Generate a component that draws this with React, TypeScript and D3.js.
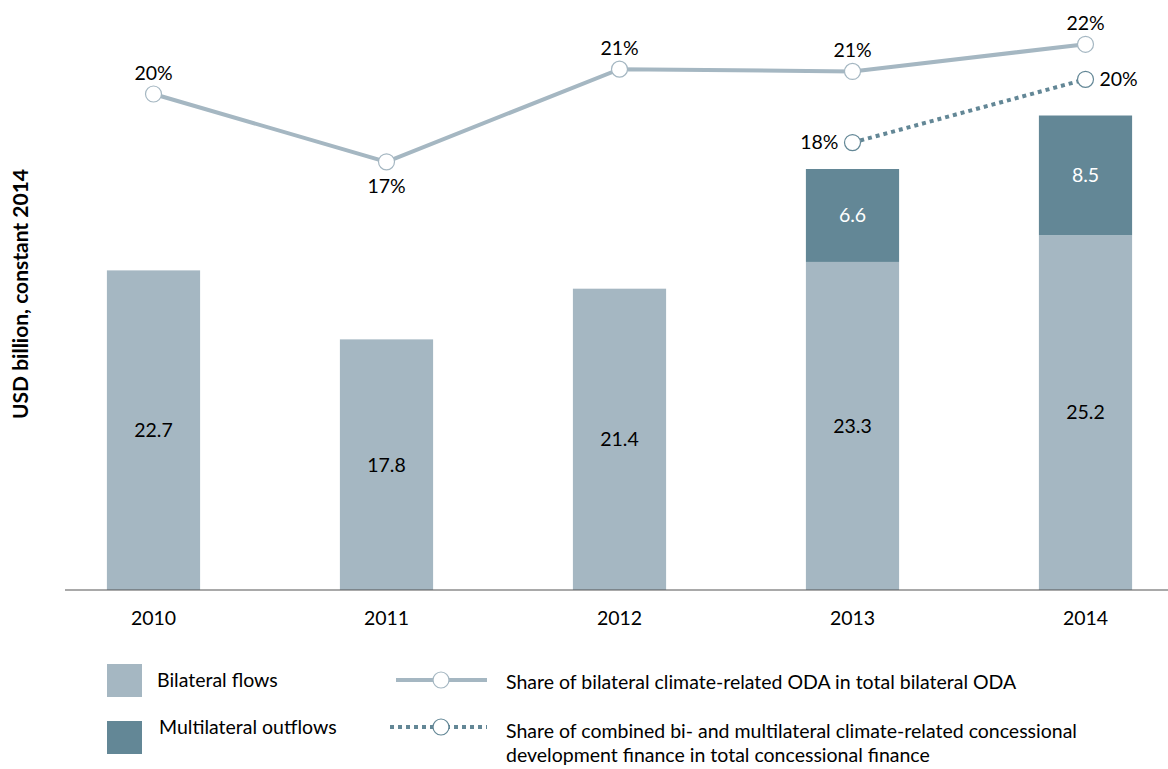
import { line, scaleBand, scaleLinear } from "d3";

const years = ["2010", "2011", "2012", "2013", "2014"];
const bilateral = [22.7, 17.8, 21.4, 23.3, 25.2];
const multilateral = [0, 0, 0, 6.6, 8.5];
const shareBilateral = [20.0, 17.0, 21.1, 21.0, 22.2];
const shareBilateralLabels = ["20%", "17%", "21%", "21%", "22%"];
const shareCombinedYears = ["2013", "2014"];
const shareCombined = [17.85, 20.65];
const shareCombinedLabels = ["18%", "20%"];

const light = "#a5b7c2";
const dark = "#638796";
const font = "Lato, 'Open Sans', sans-serif";

export default function App() {
    const width = 1168
    const height = 769
    const base = 590

    const x = scaleBand().domain(years).range([37, 1202]).paddingInner(0.6).paddingOuter(0.3)
    const y = scaleLinear().domain([0, 40]).range([base, base - 40 * 14.08])
    const p = scaleLinear().domain([15, 25]).range([94 + 5 * 22.6, 94 - 5 * 22.6])
    const cx = (yr: string) => (x(yr) as number) + x.bandwidth() / 2

    const solid = line<number>().x((_, i) => cx(years[i])).y(d => p(d))
    const dotted = line<number>().x((_, i) => cx(shareCombinedYears[i])).y(d => p(d))

    const fs = 19.5

    return (
        <svg width={width} height={height} style={{ position: "absolute", left: 0, top: 0 }}
            fontFamily={font}>
            <text transform={`translate(28, 294) rotate(-90)`} textAnchor="middle" fontWeight="bold"
                fontSize={21} fill="#000">USD billion, constant 2014</text>

            {years.map((yr, i) => (
                <g key={yr}>
                    <rect x={x(yr)} width={x.bandwidth()} y={y(bilateral[i])} height={base - y(bilateral[i])} fill={light} />
                    <text x={cx(yr)} y={(y(bilateral[i]) + base) / 2} dy="0.35em" textAnchor="middle" fontSize={fs}>
                        {bilateral[i].toFixed(1)}
                    </text>
                    {multilateral[i] > 0 && (
                        <>
                            <rect x={x(yr)} width={x.bandwidth()} y={y(bilateral[i] + multilateral[i])}
                                height={y(bilateral[i]) - y(bilateral[i] + multilateral[i])} fill={dark} />
                            <text x={cx(yr)} y={(y(bilateral[i]) + y(bilateral[i] + multilateral[i])) / 2} dy="0.35em"
                                textAnchor="middle" fontSize={fs} fill="#fff">{multilateral[i].toFixed(1)}</text>
                        </>
                    )}
                    <text x={cx(yr)} y={618} dy="0.35em" textAnchor="middle" fontSize={fs}>{yr}</text>
                </g>
            ))}

            <line x1={65} x2={1168} y1={base} y2={base} stroke="#555" strokeWidth={1.2} />

            <path d={solid(shareBilateral) ?? ""} fill="none" stroke={light} strokeWidth={4} />
            <path d={dotted(shareCombined) ?? ""} fill="none" stroke={dark} strokeWidth={4} strokeDasharray="4 4" />

            {shareBilateral.map((v, i) => (
                <g key={"s" + i}>
                    <circle cx={cx(years[i])} cy={p(v)} r={8} fill="#fff" stroke={light} strokeWidth={1.2} />
                    <text x={cx(years[i])} y={i === 1 ? p(v) + 24 : p(v) - 21} dy="0.35em" textAnchor="middle" fontSize={fs}>
                        {shareBilateralLabels[i]}
                    </text>
                </g>
            ))}
            {shareCombined.map((v, i) => (
                <g key={"c" + i}>
                    <circle cx={cx(shareCombinedYears[i])} cy={p(v)} r={8} fill="#fff" stroke={dark} strokeWidth={1.2} />
                    <text x={cx(shareCombinedYears[i]) + (i === 0 ? -14 : 14)} y={p(v)} dy="0.35em"
                        textAnchor={i === 0 ? "end" : "start"} fontSize={fs}>{shareCombinedLabels[i]}</text>
                </g>
            ))}

            {/* legend */}
            <rect x={107} y={664} width={35} height={33} fill={light} />
            <text x={157} y={680} dy="0.35em" fontSize={fs}>Bilateral flows</text>
            <rect x={107} y={721} width={35} height={33} fill={dark} />
            <text x={159} y={727} dy="0.35em" fontSize={fs}>Multilateral outflows</text>

            <line x1={396} x2={487} y1={680} y2={680} stroke={light} strokeWidth={4} />
            <circle cx={441} cy={680} r={8} fill="#fff" stroke={light} strokeWidth={1.2} />
            <text x={506} y={682} dy="0.35em" fontSize={fs}>Share of bilateral climate-related ODA in total bilateral ODA</text>

            <line x1={390} x2={487} y1={727} y2={727} stroke={dark} strokeWidth={4} strokeDasharray="4 4" />
            <circle cx={441} cy={727} r={8} fill="#fff" stroke={dark} strokeWidth={1.2} />
            <text x={506} y={731} dy="0.35em" fontSize={fs}>Share of combined bi- and multilateral climate-related concessional</text>
            <text x={506} y={755} dy="0.35em" fontSize={fs}>development finance in total concessional finance</text>
        </svg>
    )
}
